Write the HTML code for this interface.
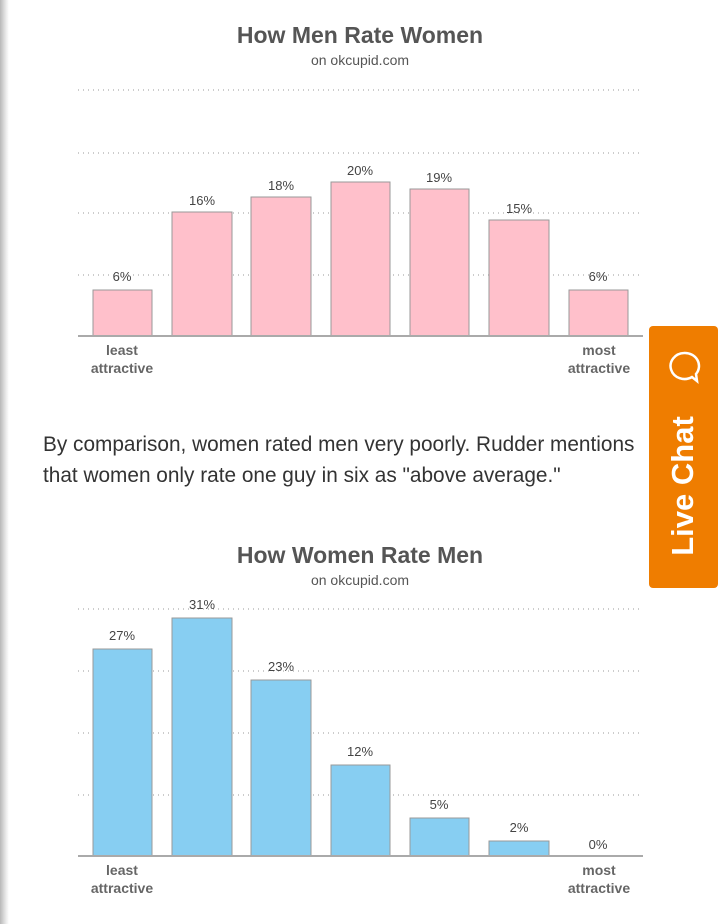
<!DOCTYPE html>
<html><head><meta charset="utf-8"><style>
html,body{margin:0;padding:0;background:#fff;}
body{width:720px;height:924px;position:relative;overflow:hidden;font-family:"Liberation Sans",sans-serif;}
.shadow{position:absolute;left:0;top:0;width:9px;height:924px;background:linear-gradient(to right,#b8b8b8,#e6e6e6 60%,#fff);}
.para{position:absolute;left:43px;top:429px;font-size:20.8px;line-height:31px;color:#333;white-space:nowrap;}
.chat{position:absolute;left:649px;top:326px;width:69px;height:262px;background:#ef7d00;border-radius:4px;}
.chat span{position:absolute;left:34px;top:160px;transform:translate(-50%,-50%) rotate(-90deg);color:#fff;font-size:31px;font-weight:bold;white-space:nowrap;}
</style></head><body>
<div class="shadow"></div>
<svg width="720" height="924" style="position:absolute;left:0;top:0">
<g font-family="Liberation Sans, sans-serif" text-anchor="middle">
<text x="360" y="43" font-size="23" font-weight="bold" fill="#555">How Men Rate Women</text>
<text x="360" y="65" font-size="14" fill="#555">on okcupid.com</text>
<g stroke="#999" stroke-dasharray="1,4" stroke-width="1">
<line x1="78" y1="90" x2="643" y2="90"/><line x1="78" y1="153" x2="643" y2="153"/>
<line x1="78" y1="213" x2="643" y2="213"/><line x1="78" y1="275" x2="643" y2="275"/>
</g>
<g fill="#ffc0cb" stroke="#999" stroke-width="1">
<rect x="93" y="290" width="59" height="46"/><rect x="172" y="212" width="60" height="124"/>
<rect x="251" y="197" width="60" height="139"/><rect x="331" y="182" width="59" height="154"/>
<rect x="410" y="189" width="59" height="147"/><rect x="489" y="220" width="60" height="116"/>
<rect x="569" y="290" width="59" height="46"/>
</g>
<line x1="78" y1="336" x2="643" y2="336" stroke="#aaa" stroke-width="2"/>
<g font-size="13" fill="#444">
<text x="122" y="281">6%</text><text x="202" y="205">16%</text><text x="281" y="190">18%</text>
<text x="360" y="175">20%</text><text x="439" y="182">19%</text><text x="519" y="213">15%</text><text x="598" y="281">6%</text>
</g>
<g font-size="14" font-weight="bold" fill="#666">
<text x="122" y="355">least</text><text x="122" y="373">attractive</text>
<text x="599" y="355">most</text><text x="599" y="373">attractive</text>
</g>

<text x="360" y="563" font-size="23" font-weight="bold" fill="#555">How Women Rate Men</text>
<text x="360" y="585" font-size="14" fill="#555">on okcupid.com</text>
<g stroke="#999" stroke-dasharray="1,4" stroke-width="1">
<line x1="78" y1="609" x2="643" y2="609"/><line x1="78" y1="671" x2="643" y2="671"/>
<line x1="78" y1="733" x2="643" y2="733"/><line x1="78" y1="795" x2="643" y2="795"/>
</g>
<g fill="#87cef2" stroke="#999" stroke-width="1">
<rect x="93" y="649" width="59" height="207"/><rect x="172" y="618" width="60" height="238"/>
<rect x="251" y="680" width="60" height="176"/><rect x="331" y="765" width="59" height="91"/>
<rect x="410" y="818" width="59" height="38"/><rect x="489" y="841" width="60" height="15"/>
</g>
<line x1="78" y1="856" x2="643" y2="856" stroke="#aaa" stroke-width="2"/>
<g font-size="13" fill="#444">
<text x="122" y="640">27%</text><text x="202" y="609">31%</text><text x="281" y="671">23%</text>
<text x="360" y="756">12%</text><text x="439" y="809">5%</text><text x="519" y="832">2%</text><text x="598" y="849">0%</text>
</g>
<g font-size="14" font-weight="bold" fill="#666">
<text x="122" y="875">least</text><text x="122" y="893">attractive</text>
<text x="599" y="875">most</text><text x="599" y="893">attractive</text>
</g>
</g>
</svg>
<div class="para">By comparison, women rated men very poorly. Rudder mentions<br>that women only rate one guy in six as "above average."</div>
<div class="chat"><span>Live Chat</span>
<svg width="40" height="40" style="position:absolute;left:15px;top:22px"><path d="M20 5a14 13 0 1 0 8 24l5 4-1-7A14 13 0 0 0 20 5z" fill="none" stroke="#fff" stroke-width="2.5"/></svg>
</div>
</body></html>
